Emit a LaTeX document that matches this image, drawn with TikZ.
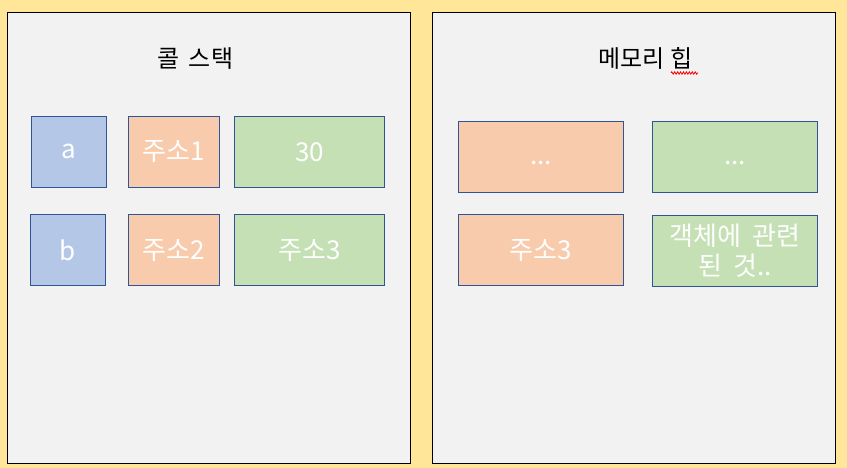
\documentclass[tikz,border=0pt]{standalone}
\usepackage{fontspec}
\setmainfont{Noto Sans CJK KR}
\usetikzlibrary{decorations.pathmorphing}
\definecolor{bgyellow}{HTML}{FFE699}
\definecolor{panelgray}{HTML}{F2F2F2}
\definecolor{cellblue}{HTML}{B4C7E7}
\definecolor{cellorange}{HTML}{F8CBAD}
\definecolor{cellgreen}{HTML}{C5E0B4}
\definecolor{cellborder}{HTML}{2F5597}
\tikzset{
  panel/.style={draw=black, line width=0.9pt, fill=panelgray},
  cell/.style={draw=cellborder, line width=0.75pt, text=white, font=\fontsize{19.5}{22.5}\selectfont, align=center, inner sep=0pt},
  bluecell/.style={cell, fill=cellblue},
  orangecell/.style={cell, fill=cellorange},
  greencell/.style={cell, fill=cellgreen},
  paneltitle/.style={text=black, font=\fontsize{18}{22}\selectfont, inner sep=0pt},
}
\begin{document}
\begin{tikzpicture}[x=0.75pt, y=-0.75pt]
\fill[bgyellow] (0,0) rectangle (847,468);
\useasboundingbox (0,0) rectangle (847,468);
% panels
\draw[panel] (7.5,12.5) rectangle (410.5,463.5);
\draw[panel] (432.5,12.5) rectangle (835.5,463.5);
% titles
\node[paneltitle] (t1) at (195.5,58.5) {콜\hspace{0.15em} 스택};
\node[paneltitle] (t2) at (645.5,58.5) {메모리 힙};
% spell-check squiggle
\coordinate (sq1) at (671,73);
\coordinate (sq2) at (698,73);
\draw[red, line width=0.6pt, decorate, decoration={zigzag, amplitude=0.9pt, segment length=2.2pt}] (sq1) -- (sq2);
% left cells
\node[bluecell, minimum width=75.5pt*0.75, minimum height=71.2pt*0.75] (a) at (68.75,151.9) {a};
\node[orangecell, minimum width=91.4pt*0.75, minimum height=71.2pt*0.75] (addr1) at (174,151.9) {주소1};
\node[greencell, minimum width=150.4pt*0.75, minimum height=71.2pt*0.75] (v30) at (309.5,151.9) {30};
\node[bluecell, minimum width=75.4pt*0.75, minimum height=71.4pt*0.75] (b) at (68,250) {b};
\node[orangecell, minimum width=91.4pt*0.75, minimum height=71.4pt*0.75] (addr2) at (174,250) {주소2};
\node[greencell, minimum width=150.4pt*0.75, minimum height=71.4pt*0.75] (addr3) at (309.5,250) {주소3};
% right cells
\node[orangecell, minimum width=165.4pt*0.75, minimum height=70.6pt*0.75] (h1) at (541,157) {\raisebox{-5.5pt}[0pt][0pt]{...}};
\node[greencell, minimum width=165.4pt*0.75, minimum height=70.6pt*0.75] (h2) at (735,157) {\raisebox{-5.5pt}[0pt][0pt]{...}};
\node[orangecell, minimum width=165.4pt*0.75, minimum height=71.4pt*0.75] (h3) at (541,250) {주소3};
\node[greencell, minimum width=165.4pt*0.75, minimum height=71pt*0.75] (h4) at (735,250.8) {객체에\hspace{0.2em} 관련\\된\hspace{0.2em} 것..};
\end{tikzpicture}
\end{document}
